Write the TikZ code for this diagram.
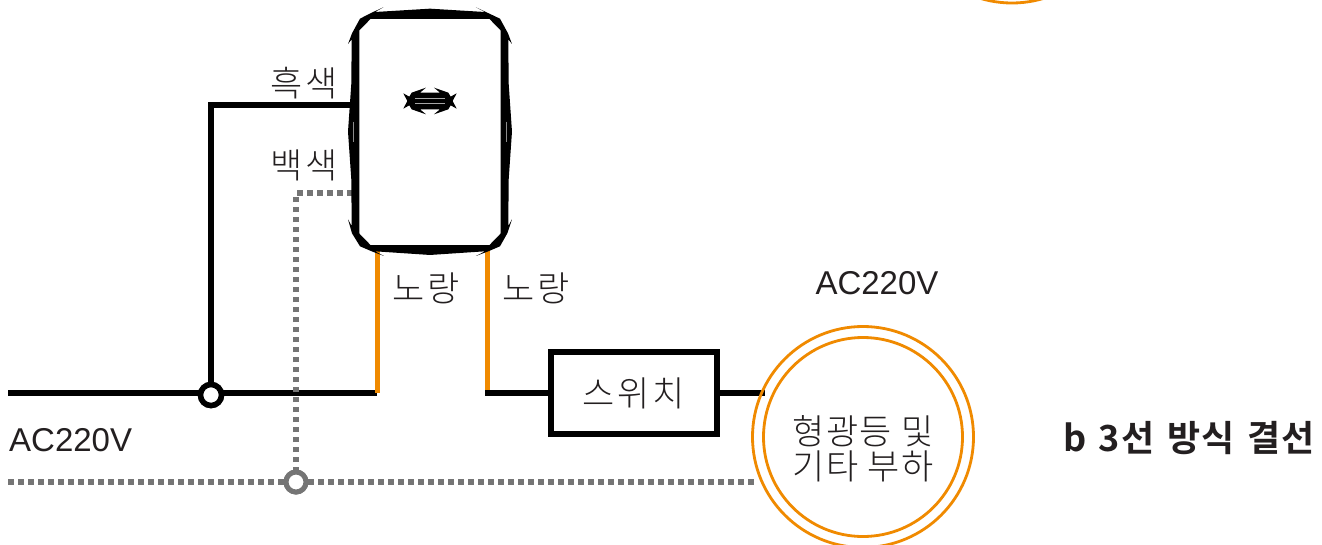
\documentclass[tikz,border=0pt]{standalone}
\usepackage{fontspec}
\setmainfont{Liberation Sans}
\newfontfamily\krfont[LetterSpace=4]{Noto Sans CJK KR Light}
\newfontfamily\krwidefont[LetterSpace=8]{Noto Sans CJK KR Light}
\newfontfamily\krboldfont[LetterSpace=4,WordSpace=1.3]{Noto Sans CJK KR Bold}
\definecolor{wireorange}{HTML}{F08A00}
\definecolor{wiregrey}{HTML}{757575}
\definecolor{inkdark}{HTML}{231F20}
\tikzset{
  blackwire/.style={draw=black,line width=5.5pt},
  orangewire/.style={draw=wireorange,line width=5pt},
  dotwire/.style={draw=wiregrey,line width=5.5pt,dash pattern=on 5.5pt off 4.5pt},
  blackjoint/.style={circle,draw=black,fill=white,line width=5.5pt,minimum size=21pt,inner sep=0pt},
  greyjoint/.style={circle,draw=wiregrey,fill=white,line width=5pt,minimum size=20pt,inner sep=0pt},
  switchbox/.style={rectangle,draw=black,fill=white,line width=5.5pt,minimum width=166pt,minimum height=82pt,inner sep=0pt,font=\krwidefont\fontsize{35}{36}\selectfont,text=inkdark},
  lamp/.style={circle,draw=wireorange,fill=white,line width=2.8pt,minimum size=199pt,inner sep=0pt},
  lamptext/.style={inner sep=0pt,align=center,font=\krfont\fontsize{35}{36}\selectfont,text=inkdark},
  label/.style={inner sep=0pt,text=inkdark,font=\krwidefont\fontsize{35}{36}\selectfont},
  latinlabel/.style={inner sep=0pt,text=inkdark,font=\fontsize{33}{36}\selectfont},
  titlelabel/.style={inner sep=0pt,text=inkdark,font=\krboldfont\fontsize{36}{36}\selectfont},
}
\begin{document}
\begin{tikzpicture}[x=1pt,y=-1pt]
\useasboundingbox (0,0) rectangle (1322,544);
\clip (0,0) rectangle (1322,544);
\fill[white] (0,0) rectangle (1322,544);
% partial circle at the top
\coordinate (topc) at (1012,-107);
\draw[wireorange,line width=2.8pt] (topc) circle[radius=110pt];
% anchors
\node[minimum width=142pt,minimum height=226pt,inner sep=0pt] (dev) at (430,132) {};
\coordinate (blackin) at (356,105);
\coordinate (whitein) at (356,193);
\coordinate (yl) at (377,245);
\coordinate (yr) at (487,245);
\coordinate (startB) at (8,393);
\coordinate (endB) at (377,393);
\coordinate (startW) at (8,482);
\coordinate (endW) at (757,482);
\coordinate (r0) at (487,393);
\node[blackjoint] (jb) at (211,395) {};
\node[greyjoint] (jw) at (296,482) {};
\node[switchbox] (sw) at (634,393) {스위치};
% wires
\draw[blackwire] (startB) -- (endB);
\draw[dotwire] (startW) -- (endW);
\draw[blackwire] (jb.center) -- (jb.center |- blackin) -- (blackin);
\draw[dotwire] (jw.center) -- (jw.center |- whitein) -- (whitein);
\draw[orangewire] (yl) -- (endB);
\draw[orangewire] (yr) -- (r0);
\draw[blackwire] (485,393) -- (sw.west);
\draw[blackwire] (sw.east) -- (765,393);
\node[blackjoint] at (jb) {};
\node[greyjoint] at (jw) {};
% device body with its spiky outline
\begin{scope}[shift={(330,0)},x=0.3333pt,y=-0.3333pt]
\fill[black] (160,22) -- (135,36) -- (300,26) -- (465,36) -- (438,22) -- (510,56) -- (534,100) -- (546,132) -- (535,118)
  -- (536,250) -- (546,395) -- (536,540) -- (535,678) -- (546,658) -- (532,700) -- (510,739) -- (475,754) -- (438,768) -- (465,754)
  -- (300,765) -- (135,754) -- (162,768) -- (125,754) -- (90,739) -- (66,700) -- (54,658) -- (65,678)
  -- (64,540) -- (54,395) -- (64,250) -- (65,118) -- (54,132) -- (66,100) -- (90,56) -- (125,38) -- cycle;
\fill[white] (122,57) -- (478,57) -- (512,92) -- (512,700) -- (478,735) -- (122,735) -- (88,700) -- (88,92) -- cycle;
\draw[white!55!black,line width=0.8pt] (70,365) -- (70,425);
\draw[white!55!black,line width=0.8pt] (529,365) -- (529,425);
% small slot
\fill[black] (220,280) -- (238,290) -- (245,278) -- (288,263) -- (270,278) -- (330,278) -- (312,263) -- (355,278) -- (362,290) -- (380,280)
  -- (368,303) -- (380,326) -- (362,316) -- (355,328) -- (312,343) -- (330,328) -- (270,328) -- (288,343) -- (245,328) -- (238,316) -- (220,326) -- (232,303) -- cycle;
\draw[white!65!black,line width=1pt] (255,297) -- (345,297);
\draw[white!65!black,line width=1pt] (255,312) -- (345,312);
\end{scope}
% lamp
\draw[wireorange,line width=2.8pt] (863,437) circle[radius=110.5pt];
\node[lamp] (load) at (863,437) {};
\node[lamptext] (loadtext) at (863,449) {형광등 및\\[-1pt]기타 부하};
% labels
\node[label] (t1) at (304,83) {흑색};
\node[label] (t2) at (304,165) {백색};
\node[label] (t3) at (426,288) {노랑};
\node[label] (t4) at (536,288) {노랑};
\node[latinlabel] (t5) at (877,283) {AC220V};
\node[latinlabel,anchor=west] (t6) at (9,440) {AC220V};
\node[titlelabel,anchor=west] (t7) at (1063,438) {b 3선 방식 결선};
\end{tikzpicture}
\end{document}
